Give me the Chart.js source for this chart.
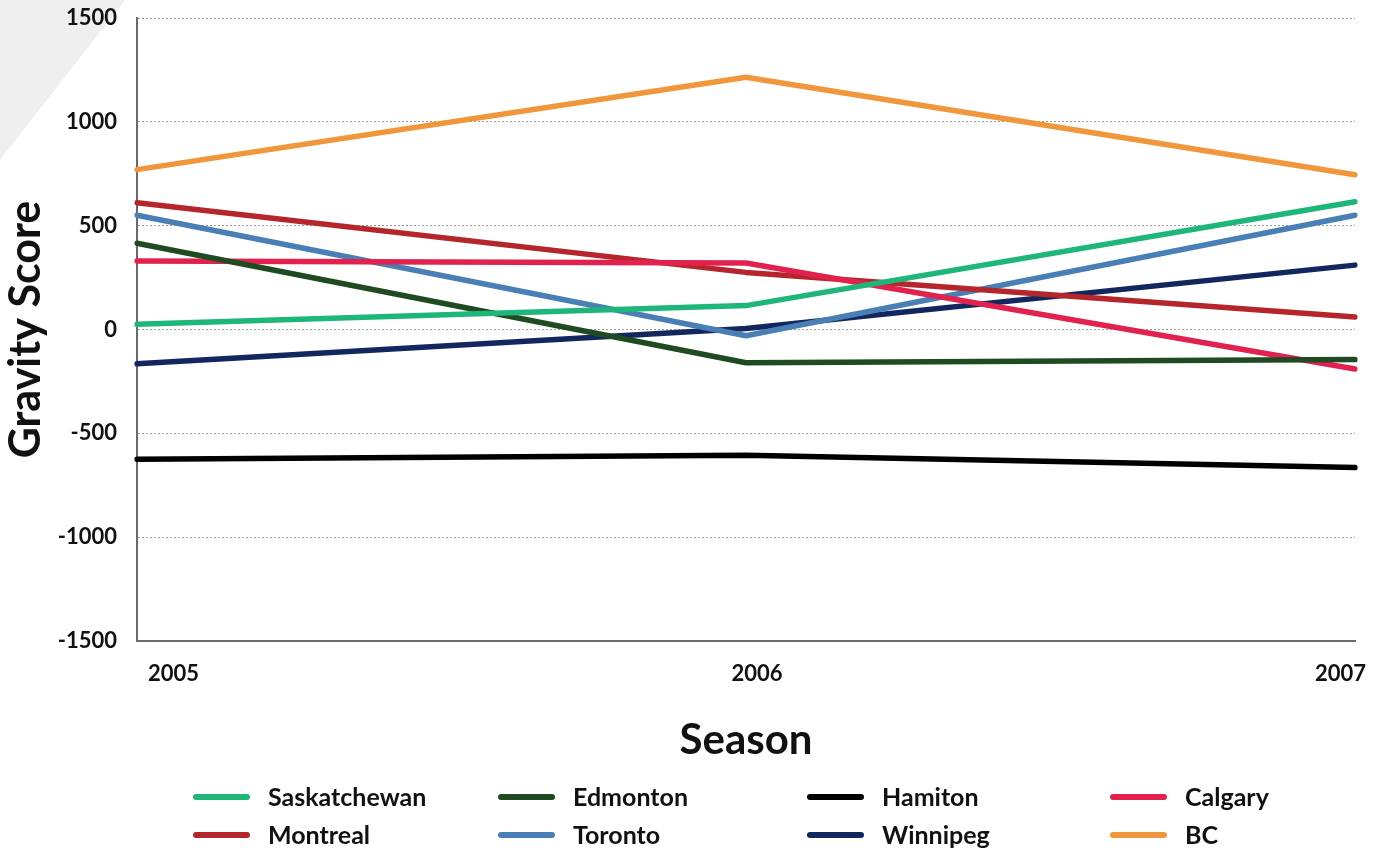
<!DOCTYPE html>
<html>
<head>
<meta charset="utf-8">
<script src="https://cdn.jsdelivr.net/npm/chart.js@4"></script>
<style>
  html, body { margin: 0; padding: 0; background: #ffffff; }
  #wrap { position: relative; width: 1390px; height: 853px; overflow: hidden; }
  #corner {
    position: absolute; left: 0; top: 0; width: 125px; height: 160px;
    background: #efefef;
    clip-path: polygon(0 0, 100% 0, 0 100%);
  }
  canvas { position: absolute; left: 0; top: 0; }
</style>
</head>
<body>
<div id="wrap">
  <div id="corner"></div>
  <canvas id="c" width="1390" height="853"></canvas>
</div>
<script>
// Seasons on the x axis
const seasons = ['2005', '2006', '2007'];

// Gravity score per team and season
const saskatchewan = [25, 115, 615];
const edmonton     = [415, -160, -145];
const hamilton     = [-625, -605, -665];
const calgary      = [330, 320, -190];
const montreal     = [610, 275, 60];
const toronto      = [550, -30, 550];
const winnipeg     = [-165, 5, 310];
const bc           = [770, 1215, 745];

const teamNames  = ['Saskatchewan', 'Edmonton', 'Hamiton', 'Calgary', 'Montreal', 'Toronto', 'Winnipeg', 'BC'];
const teamValues = [saskatchewan, edmonton, hamilton, calgary, montreal, toronto, winnipeg, bc];
const teamColors = ['#1fb67a', '#1f4a22', '#000000', '#e2224e', '#b4262b', '#4a7fb6', '#12275d', '#f0973b'];

const yTicks = [-1500, -1000, -500, 0, 500, 1000, 1500];

const FONT = 'Lato, "Open Sans", sans-serif';

// Legend laid out as a fixed 4 x 2 grid under the chart
const gridLegend = {
  id: 'gridLegend',
  afterDraw(chart) {
    const ctx = chart.ctx;
    const colX = [193, 498, 807, 1110];
    const rowY = [797, 835];
    ctx.save();
    chart.data.datasets.forEach((ds, i) => {
      const x = colX[i % 4];
      const y = rowY[Math.floor(i / 4)];
      ctx.strokeStyle = ds.borderColor;
      ctx.lineWidth = 6;
      ctx.lineCap = 'round';
      ctx.beginPath();
      ctx.moveTo(x + 3, y);
      ctx.lineTo(x + 54, y);
      ctx.stroke();
      ctx.fillStyle = '#111111';
      ctx.font = 'bold 25px ' + FONT;
      ctx.textBaseline = 'middle';
      ctx.textAlign = 'left';
      ctx.fillText(ds.label, x + 75, y + 1);
    });
    ctx.restore();
  }
};

new Chart(document.getElementById('c'), {
  type: 'line',
  data: {
    labels: seasons,
    datasets: teamNames.map((name, i) => ({
      label: name,
      data: teamValues[i],
      borderColor: teamColors[i],
      backgroundColor: teamColors[i],
      borderWidth: 5.5,
      pointRadius: 0,
      tension: 0,
      borderCapStyle: 'round',
      borderJoinStyle: 'round'
    }))
  },
  options: {
    responsive: false,
    animation: false,
    layout: { padding: { left: 0, right: 35, top: 18, bottom: 87 } },
    plugins: {
      legend: { display: false },
      tooltip: { enabled: false }
    },
    scales: {
      x: {
        offset: false,
        grid: { display: false, drawTicks: false },
        border: { display: true, color: '#6b6b6b', width: 2 },
        ticks: {
          align: 'inner',
          labelOffset: 11,
          padding: 20,
          color: '#111111',
          font: { family: FONT, size: 22, weight: 'bold' }
        },
        title: {
          display: true,
          text: 'Season',
          color: '#111111',
          font: { family: FONT, size: 42, weight: 'bold' },
          padding: { top: 22, bottom: 0 }
        },
        afterFit(scale) { scale.height = 125; }
      },
      y: {
        min: -1500,
        max: 1500,
        afterBuildTicks(scale) { scale.ticks = yTicks.map(v => ({ value: v })); },
        grid: {
          drawTicks: false,
          color: '#9a9a9a',
          lineWidth: 1
        },
        border: { display: true, color: '#6b6b6b', width: 2, dash: [2, 2] },
        ticks: {
          padding: 20,
          color: '#111111',
          font: { family: FONT, size: 22, weight: 'bold' },
          callback: (v) => String(v)
        },
        title: {
          display: true,
          text: 'Gravity Score',
          color: '#111111',
          font: { family: FONT, size: 43, weight: 'bold' },
          padding: { top: 0, bottom: 0 }
        },
        afterFit(scale) {
          scale.width = 137;
          scale.paddingTop = 0;
          scale.paddingBottom = 0;
        }
      }
    }
  },
  plugins: [gridLegend]
});
</script>
</body>
</html>
